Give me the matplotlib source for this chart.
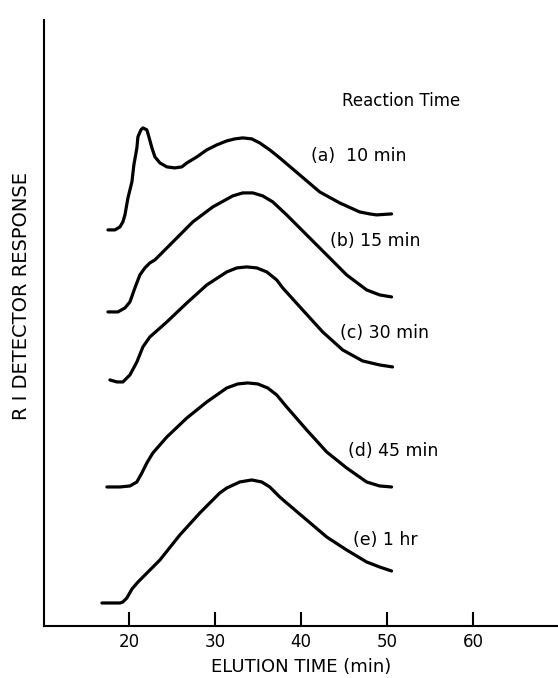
import matplotlib
matplotlib.use("Agg")
import matplotlib.pyplot as plt

# elution time (min) and RI response (arbitrary units, curves stacked)
time_a = [17.50, 18.31, 18.90, 19.24, 19.48, 19.83, 20.29, 20.52, 20.87, 20.99,
          21.34, 21.57, 22.03, 22.27, 22.62, 22.97, 23.55, 24.36, 25.29, 26.10,
          26.69, 27.85, 29.01, 30.17, 31.34, 32.27, 33.20, 34.24, 35.17, 36.34,
          37.50, 39.83, 42.15, 44.48, 46.80, 47.97, 48.78, 50.52]
resp_a = [39.6, 39.6, 39.9, 40.4, 41.1, 42.8, 44.4, 46.1, 47.8, 48.9,
          49.6, 49.8, 49.6, 48.9, 47.8, 46.9, 46.3, 45.9, 45.8, 45.9,
          46.3, 46.9, 47.6, 48.1, 48.5, 48.7, 48.8, 48.7, 48.3, 47.6,
          46.8, 45.1, 43.4, 42.3, 41.4, 41.2, 41.1, 41.2]

time_b = [17.50, 18.66, 19.48, 20.06, 20.64, 21.22, 21.80, 22.38, 22.97, 25.06,
          27.38, 29.71, 32.03, 33.20, 34.36, 35.52, 36.69, 38.31, 40.64, 42.97,
          45.29, 47.62, 49.13, 50.52]
resp_b = [31.4, 31.4, 31.8, 32.4, 33.8, 35.1, 35.8, 36.3, 36.6, 38.4,
          40.4, 41.9, 43.0, 43.3, 43.3, 43.0, 42.4, 41.1, 39.1, 37.1,
          35.1, 33.6, 33.1, 32.9]

time_c = [17.73, 18.55, 19.24, 20.06, 20.87, 21.57, 22.38, 23.31, 24.36, 26.69,
          29.01, 31.34, 32.50, 33.66, 34.83, 35.99, 37.15, 37.85, 40.17, 42.50,
          44.83, 47.15, 49.13, 50.64]
resp_c = [24.6, 24.4, 24.4, 25.1, 26.4, 27.9, 28.9, 29.6, 30.4, 32.3,
          34.1, 35.4, 35.8, 35.9, 35.8, 35.4, 34.6, 33.8, 31.6, 29.4,
          27.6, 26.5, 26.1, 25.9]

time_d = [17.38, 18.90, 20.06, 20.87, 21.45, 22.03, 22.73, 24.36, 26.69, 29.01,
          31.34, 32.62, 33.78, 34.94, 36.10, 37.15, 38.31, 40.64, 42.97, 45.29,
          47.62, 49.13, 50.52]
resp_d = [13.9, 13.9, 14.0, 14.4, 15.3, 16.3, 17.3, 18.9, 20.8, 22.4,
          23.8, 24.2, 24.3, 24.2, 23.8, 23.1, 21.9, 19.6, 17.4, 15.8,
          14.4, 14.0, 13.9]

time_e = [16.80, 18.90, 19.24, 19.70, 20.30, 21.00, 23.55, 25.87, 28.20, 30.52,
          31.34, 32.85, 34.24, 35.41, 36.34, 37.50, 38.31, 40.64, 42.97, 45.29,
          47.62, 49.13, 50.52]
resp_e = [2.3, 2.3, 2.4, 2.8, 3.7, 4.4, 6.6, 9.1, 11.3, 13.3,
          13.8, 14.4, 14.6, 14.4, 13.9, 12.9, 12.3, 10.6, 8.9, 7.6,
          6.4, 5.9, 5.5]

labels = ["(a)  10 min", "(b) 15 min", "(c) 30 min", "(d) 45 min", "(e) 1 hr"]
xticks = [20, 30, 40, 50, 60]

curves = [(time_a, resp_a), (time_b, resp_b), (time_c, resp_c),
          (time_d, resp_d), (time_e, resp_e)]
label_pos = [(41.2, 47.0), (43.3, 38.5), (44.5, 29.3), (45.4, 17.5), (46.0, 8.6)]

plt.rcParams["font.family"] = ["DejaVu Sans"]

fig = plt.figure(figsize=(5.58, 6.78), dpi=100)
ax = fig.add_axes([0.078, 0.0767, 0.922, 0.894])

for (t, r) in curves:
    ax.plot(t, r, color="black", lw=2.3, solid_capstyle="round", solid_joinstyle="round")

for text, (x, y) in zip(labels, label_pos):
    ax.text(x, y, text, fontsize=12.5, va="center", ha="left")
ax.text(44.8, 52.5, "Reaction Time", fontsize=12, va="center", ha="left")

ax.set_xlim(10, 69.9)
ax.set_ylim(0, 60.6)
ax.set_xticks(xticks)
ax.set_yticks([])
ax.tick_params(axis="x", direction="in", length=10, width=1.5, labelsize=12, pad=5)
for side in ("top", "right"):
    ax.spines[side].set_visible(False)
ax.spines["left"].set_linewidth(1.5)
ax.spines["bottom"].set_linewidth(1.5)

ax.set_xlabel("ELUTION TIME (min)", fontsize=13, labelpad=5)
ax.set_ylabel("R I DETECTOR RESPONSE", fontsize=14, labelpad=9, y=0.545)

fig.savefig("out.png", dpi=100)
